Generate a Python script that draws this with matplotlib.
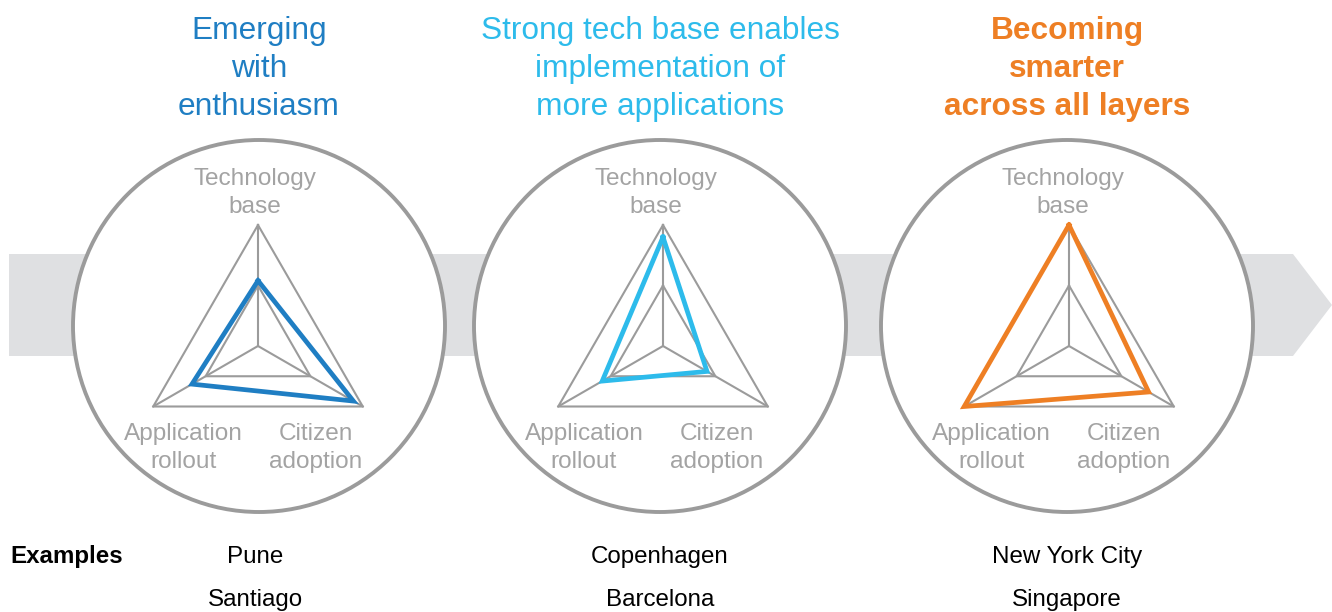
import numpy as np
import matplotlib
matplotlib.use("Agg")
import matplotlib.pyplot as plt
from matplotlib.patches import Circle, Polygon

plt.rcParams['font.family'] = ['Liberation Sans', 'DejaVu Sans']

# ---------------- data ----------------
axes_labels = ["Technology\nbase", "Citizen\nadoption", "Application\nrollout"]
titles = [["Emerging", "with", "enthusiasm"],
          ["Strong tech base enables", "implementation of", "more applications"],
          ["Becoming", "smarter", "across all layers"]]
title_bold = [False, False, True]
series_colors = ["#1f7ec3", "#2dbbeb", "#ee7f24"]
# values: Technology base, Citizen adoption, Application rollout (0..1)
pune_stage = [0.54, 0.91, 0.63]
copenhagen_stage = [0.90, 0.42, 0.58]
nyc_stage = [1.00, 0.76, 1.00]
stage_values = [pune_stage, copenhagen_stage, nyc_stage]
examples = [["Pune", "Santiago"], ["Copenhagen", "Barcelona"],
            ["New York City", "Singapore"]]

# ---------------- layout ----------------
W, H = 1332, 612
fig = plt.figure(figsize=(W / 100, H / 100), dpi=100)
bg = fig.add_axes([0, 0, 1, 1])
bg.set_xlim(0, W)
bg.set_ylim(H, 0)
bg.axis("off")

grey_line = "#9b9b9b"
grey_text = "#a3a3a3"

# arrow band
band = Polygon([[9, 254], [1293, 254], [1332, 305], [1293, 356], [9, 356]],
               closed=True, facecolor="#dfe0e2", edgecolor="none", zorder=0)
bg.add_patch(band)

circle_cx = [259, 660, 1067]
circle_cy = 326
circle_r = 186
tri_cx = [258, 663, 1069]
tri_cy = 346
tri_R = 121

for i in range(3):
    bg.add_patch(Circle((circle_cx[i], circle_cy), circle_r, facecolor="white",
                        edgecolor=grey_line, lw=2.8, zorder=1))
    # titles
    for j, line in enumerate(titles[i]):
        bg.text(circle_cx[i], 39 + 38 * j, line, ha="center", va="baseline",
                fontsize=22.8, color=series_colors[i],
                fontweight="bold" if title_bold[i] else "normal", zorder=5)
    # axis labels
    cx = circle_cx[i]
    tech = axes_labels[0].split("\n")
    cit = axes_labels[1].split("\n")
    app = axes_labels[2].split("\n")
    for j, t in enumerate(tech):
        bg.text(cx - 4, 185 + 28 * j, t, ha="center", va="baseline",
                fontsize=17.6, color=grey_text, zorder=5)
    for j, t in enumerate(cit):
        bg.text(cx + 57, 440 + 28 * j, t, ha="center", va="baseline",
                fontsize=17.6, color=grey_text, zorder=5)
    for j, t in enumerate(app):
        bg.text(cx - 76, 440 + 28 * j, t, ha="center", va="baseline",
                fontsize=17.6, color=grey_text, zorder=5)
    # examples
    for j, e in enumerate(examples[i]):
        bg.text(cx - 4 if i == 0 else cx, 563 + 43 * j, e, ha="center",
                va="baseline", fontsize=17.4, color="black", zorder=5)

bg.text(10, 563, "Examples", ha="left", va="baseline", fontsize=17.4,
        fontweight="bold", color="black")

# radar panels on polar axes
theta = np.deg2rad([0, 120, 240])
theta_closed = np.append(theta, theta[0])
for i in range(3):
    left = (tri_cx[i] - tri_R) / W
    bottom = (H - tri_cy - tri_R) / H
    ax = fig.add_axes([left, bottom, 2 * tri_R / W, 2 * tri_R / H],
                      projection="polar", zorder=3)
    ax.set_theta_offset(np.pi / 2)
    ax.set_theta_direction(-1)
    ax.set_ylim(0, 1)
    ax.patch.set_alpha(0)
    ax.grid(False)
    ax.spines["polar"].set_visible(False)
    ax.set_xticks([])
    ax.set_yticks([])
    for lvl in [0.5, 1.0]:
        ax.plot(theta_closed, [lvl] * 4, color=grey_line, lw=1.5,
                clip_on=False, zorder=2)
    for t in theta:
        ax.plot([t, t], [0, 1], color=grey_line, lw=1.5, clip_on=False,
                zorder=2)
    vals = stage_values[i]
    ax.plot(theta_closed, vals + [vals[0]], color=series_colors[i], lw=3.4,
            clip_on=False, zorder=4, solid_joinstyle="miter")

fig.savefig("out.png", dpi=100)
